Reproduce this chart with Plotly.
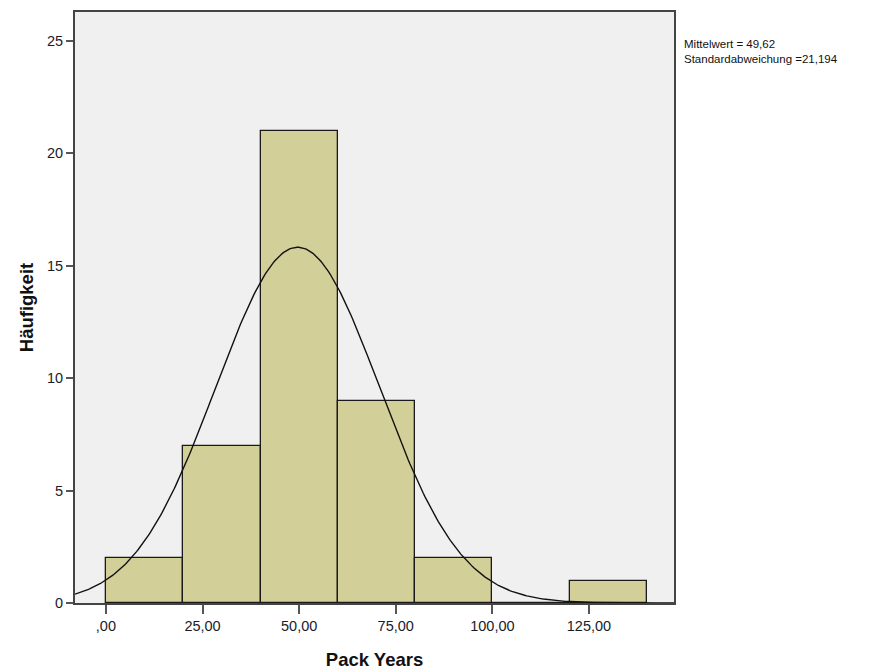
import numpy as np
import plotly.graph_objects as go

# Data
bin_starts = [0, 20, 40, 60, 80, 100, 120]
bin_width = 20
counts = [2, 7, 21, 9, 2, 0, 1]
tick_vals = [0, 25, 50, 75, 100, 125]
tick_text = [",00", "25,00", "50,00", "75,00", "100,00", "125,00"]
y_ticks = [0, 5, 10, 15, 20, 25]
mean = 49.62
sd = 21.194

n = sum(counts)
centers = [s + bin_width / 2 for s in bin_starts]

xr = [-8.0, 147.0]
xs = np.linspace(xr[0], xr[1], 400)
ys = n * bin_width * np.exp(-0.5 * ((xs - mean) / sd) ** 2) / (sd * np.sqrt(2 * np.pi))

fig = go.Figure()
fig.add_trace(go.Bar(
    x=centers, y=counts, width=bin_width,
    marker=dict(color="#d3cf98", line=dict(color="#1a1a1a", width=1.3)),
    hoverinfo="skip", showlegend=False,
))
fig.add_trace(go.Scatter(
    x=xs, y=ys, mode="lines",
    line=dict(color="#111111", width=1.4),
    hoverinfo="skip", showlegend=False,
))

axis_font = dict(family="Arial, Liberation Sans, sans-serif", size=14.5, color="#1a1a2a")
title_font = dict(family="Arial, Liberation Sans, sans-serif", size=18.5, color="#111")

fig.update_layout(
    width=869, height=670,
    margin=dict(l=75, r=195, t=12, b=67),
    paper_bgcolor="white",
    plot_bgcolor="#f0f0f0",
    bargap=0,
    xaxis=dict(
        range=xr, tickvals=tick_vals, ticktext=tick_text,
        showgrid=False, zeroline=False, automargin=False,
        showline=True, mirror=True, linecolor="#444", linewidth=2,
        ticks="outside", ticklen=9, tickcolor="#555", tickwidth=1.5,
        tickfont=axis_font,
        title=dict(text="<b>Pack Years</b>", font=title_font, standoff=20),
    ),
    yaxis=dict(
        range=[0, 26.27], tickvals=y_ticks,
        showgrid=False, zeroline=False, automargin=False,
        showline=True, mirror=True, linecolor="#444", linewidth=2,
        ticks="outside", ticklen=7, tickcolor="#555", tickwidth=1.5,
        tickfont=axis_font,
        title=dict(text="<b>Häufigkeit</b>", font=title_font, standoff=8),
    ),
    annotations=[dict(
        x=1.0, y=0.96, xref="paper", yref="paper",
        xanchor="left", yanchor="top", xshift=8,
        text=f"Mittelwert = {mean:.2f}".replace(".", ",") + "<br>" +
             f"Standardabweichung ={sd:.3f}".replace(".", ","),
        showarrow=False, align="left",
        font=dict(family="Arial, Liberation Sans, sans-serif", size=11.5, color="#111"),
    )],
)

fig.write_html("out.html")
